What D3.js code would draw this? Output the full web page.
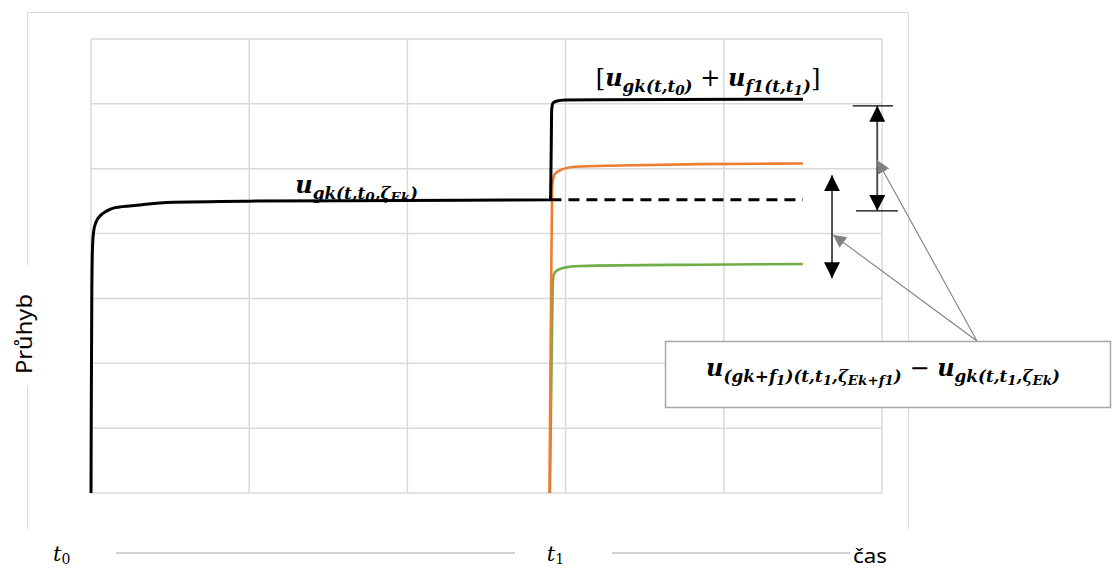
<!DOCTYPE html>
<html>
<head>
<meta charset="utf-8">
<script src="https://cdn.jsdelivr.net/npm/d3@7"></script>
<style>
  body { margin: 0; background: #fff; }
  svg { display: block; }
</style>
</head>
<body>
<svg id="chart" width="1112" height="569"></svg>
<script>
// grid ticks (time units / deflection units)
var gridX = [0, 100, 200, 300, 400, 500];
var gridY = [0, 1, 2, 3, 4, 5, 6, 7];

// u_gk(t,t0) then jump to [u_gk + u_f1] after t1
var blackT = [0, 0.2, 0.5, 0.9, 1.6, 3.2, 5.7, 10.1, 15.2, 31, 48, 100.5, 195, 290.4,
              290.9, 291.2, 292.0, 293.9, 299.6, 321.7, 450];
var blackU = [0, 1.43, 2.98, 3.75, 4.02, 4.18, 4.27, 4.35, 4.40, 4.44, 4.48, 4.50, 4.51, 4.52,
              5.29, 5.91, 6.01, 6.04, 6.06, 6.065, 6.07];
// orange series (load f1 from t1)
var orangeT = [289.8, 290.8, 291.4, 291.8, 293.3, 297.7, 305.9, 334, 385, 450];
var orangeU = [0, 2.98, 4.52, 4.80, 4.92, 4.99, 5.03, 5.05, 5.07, 5.08];
// green series
var greenT = [290.1, 291, 291.8, 292.3, 293.9, 298.3, 309, 385, 450];
var greenU = [0, 1.74, 3.13, 3.35, 3.42, 3.47, 3.50, 3.52, 3.53];
// dashed continuation of u_gk after t1
var dashT = [290.4, 450];
var dashU = [4.52, 4.52];

// double arrows (x, y from, y to)
var arrowA = { t: 497, u0: 5.97, u1: 4.35, bar0: [481.5, 507], bar1: [483.6, 510] };
var arrowB = { t: 468.4, u0: 4.90, u1: 3.31 };
// grey pointer targets
var pointerT = [497, 469];
var pointerU = [5.13, 3.98];

var svg = d3.select("#chart");
var x = d3.scaleLinear().domain([0, 500]).range([91, 882]);
var y = d3.scaleLinear().domain([0, 7]).range([493, 39]);

var defs = svg.append("defs");
function marker(id, size, color) {
  defs.append("marker")
    .attr("id", id)
    .attr("markerUnits", "userSpaceOnUse")
    .attr("viewBox", "0 0 10 10")
    .attr("refX", 10).attr("refY", 5)
    .attr("markerWidth", size).attr("markerHeight", size)
    .attr("orient", "auto-start-reverse")
    .append("path")
    .attr("d", "M0,0 L10,5 L0,10 Z")
    .attr("fill", color);
}
marker("blk", 16, "#000");
marker("gry", 13, "#808080");

// outer chart frame (left side interrupted by the axis title)
var frame = svg.append("g").attr("stroke", "#d9d9d9").attr("stroke-width", 1);
frame.append("line").attr("x1", 27.5).attr("x2", 908.5).attr("y1", 12.5).attr("y2", 12.5);
frame.append("line").attr("x1", 27.5).attr("x2", 27.5).attr("y1", 12.5).attr("y2", 265);
frame.append("line").attr("x1", 27.5).attr("x2", 27.5).attr("y1", 387).attr("y2", 529);
frame.append("line").attr("x1", 908.5).attr("x2", 908.5).attr("y1", 12.5).attr("y2", 529);

// gridlines
var grid = svg.append("g").attr("stroke", "#d9d9d9").attr("stroke-width", 1.5);
grid.selectAll(".gx").data(gridX).enter().append("line")
  .attr("x1", d => x(d)).attr("x2", d => x(d))
  .attr("y1", y(7)).attr("y2", y(0));
grid.selectAll(".gy").data(gridY).enter().append("line")
  .attr("x1", x(0)).attr("x2", x(500))
  .attr("y1", d => y(d)).attr("y2", d => y(d));

var line = d3.line().x(d => x(d[0])).y(d => y(d[1])).curve(d3.curveMonotoneX);
function zip(a, b) { return a.map((v, i) => [v, b[i]]); }

svg.append("path").datum(zip(greenT, greenU))
  .attr("d", line).attr("fill", "none").attr("stroke", "#70ad47").attr("stroke-width", 2.6);
svg.append("path").datum(zip(orangeT, orangeU))
  .attr("d", line).attr("fill", "none").attr("stroke", "#ed7d31").attr("stroke-width", 2.6);
svg.append("path").datum(zip(blackT, blackU))
  .attr("d", line).attr("fill", "none").attr("stroke", "#000").attr("stroke-width", 3)
  .attr("stroke-linejoin", "round");
svg.append("path").datum(zip(dashT, dashU))
  .attr("d", d3.line().x(d => x(d[0])).y(d => y(d[1])))
  .attr("fill", "none").attr("stroke", "#000").attr("stroke-width", 3)
  .attr("stroke-dasharray", "11,7");

// double arrow A with limit bars
var ann = svg.append("g");
ann.append("line").attr("x1", x(arrowA.bar0[0])).attr("x2", x(arrowA.bar0[1]))
  .attr("y1", y(arrowA.u0)).attr("y2", y(arrowA.u0)).attr("stroke", "#000").attr("stroke-width", 1.2);
ann.append("line").attr("x1", x(arrowA.bar1[0])).attr("x2", x(arrowA.bar1[1]))
  .attr("y1", y(arrowA.u1)).attr("y2", y(arrowA.u1)).attr("stroke", "#000").attr("stroke-width", 1.2);
ann.append("line").attr("x1", x(arrowA.t)).attr("x2", x(arrowA.t))
  .attr("y1", y(arrowA.u0)).attr("y2", y(arrowA.u1))
  .attr("stroke", "#404040").attr("stroke-width", 1.8)
  .attr("marker-start", "url(#blk)").attr("marker-end", "url(#blk)");
ann.append("line").attr("x1", x(arrowB.t)).attr("x2", x(arrowB.t))
  .attr("y1", y(arrowB.u0)).attr("y2", y(arrowB.u1))
  .attr("stroke", "#404040").attr("stroke-width", 1.8)
  .attr("marker-start", "url(#blk)").attr("marker-end", "url(#blk)");

// grey pointers from the callout box
var boxX = 665, boxY = 341, boxW = 445, boxH = 66;
ann.selectAll(".ptr").data(pointerT).enter().append("line")
  .attr("x1", 977).attr("y1", boxY)
  .attr("x2", d => x(d)).attr("y2", (d, i) => y(pointerU[i]))
  .attr("stroke", "#808080").attr("stroke-width", 1.1)
  .attr("marker-end", "url(#gry)");

ann.append("rect").attr("x", boxX + 0.5).attr("y", boxY + 0.5)
  .attr("width", boxW).attr("height", boxH)
  .attr("fill", "#fff").attr("stroke", "#a6a6a6").attr("stroke-width", 1.5);

// math labels built from [text, level, plain]
function mathText(px, py, size, parts, anchor) {
  var t = svg.append("text")
    .attr("x", px).attr("y", py)
    .attr("text-anchor", anchor || "start")
    .style("white-space", "pre")
    .attr("font-family", "'DejaVu Serif', 'Liberation Serif', serif")
    .attr("fill", "#000");
  var offs = [0, 0.24 * size, 0.38 * size];
  var sizes = [size, 0.7 * size, 0.56 * size];
  var cur = 0;
  parts.forEach(p => {
    var lvl = p[1];
    t.append("tspan")
      .attr("dy", offs[lvl] - cur)
      .attr("font-size", sizes[lvl])
      .attr("font-weight", p[2] ? "normal" : "bold")
      .attr("font-style", p[2] ? "normal" : "italic")
      .text(p[0]);
    cur = offs[lvl];
  });
  return t;
}

mathText(418, 193, 24, [["u", 0], ["gk(t,t", 1], ["0", 2], [",ζ", 1], ["Ek", 2], [")", 1]], "end");
mathText(708, 86, 24, [["[", 0, true], ["u", 0], ["gk(t,t", 1], ["0", 2], [")", 1], [" + ", 0, true],
  ["u", 0], ["f1(t,t", 1], ["1", 2], [")", 1], ["]", 0, true]], "middle");
mathText(883, 376, 24, [["u", 0], ["(gk+f", 1], ["1", 2], [")(t,t", 1], ["1", 2],
  [",ζ", 1], ["Ek+f1", 2], [")", 1], [" − ", 0, true], ["u", 0], ["gk(t,t", 1], ["1", 2],
  [",ζ", 1], ["Ek", 2], [")", 1]], "middle");

// bottom time axis drawn as a grey line with labels
var axisG = svg.append("g").attr("stroke", "#d0d0d0").attr("stroke-width", 2);
axisG.append("line").attr("x1", 116).attr("x2", 515).attr("y1", 553).attr("y2", 553);
axisG.append("line").attr("x1", 612).attr("x2", 850).attr("y1", 553).attr("y2", 553);

function tLabel(px, sub) {
  var t = svg.append("text").attr("x", px).attr("y", 561)
    .attr("font-family", "'DejaVu Serif', serif").attr("font-style", "italic")
    .attr("font-size", 21).attr("fill", "#000");
  t.append("tspan").text("t");
  t.append("tspan").attr("dy", 3).attr("font-size", 14).attr("font-style", "normal").text(sub);
}
tLabel(x(0) - 38, "0");
tLabel(x(290) - 3, "1");

svg.append("text").attr("x", 853).attr("y", 563)
  .attr("font-family", "'Noto Sans', 'Open Sans', sans-serif").attr("font-size", 20)
  .attr("textLength", 34).attr("lengthAdjust", "spacingAndGlyphs")
  .attr("fill", "#000").text("čas");

svg.append("text")
  .attr("transform", "translate(32,334) rotate(-90)")
  .attr("text-anchor", "middle")
  .attr("font-family", "'Noto Sans', 'Open Sans', sans-serif").attr("font-size", 21)
  .attr("textLength", 80).attr("lengthAdjust", "spacingAndGlyphs")
  .attr("fill", "#000").text("Průhyb");
</script>
</body>
</html>
